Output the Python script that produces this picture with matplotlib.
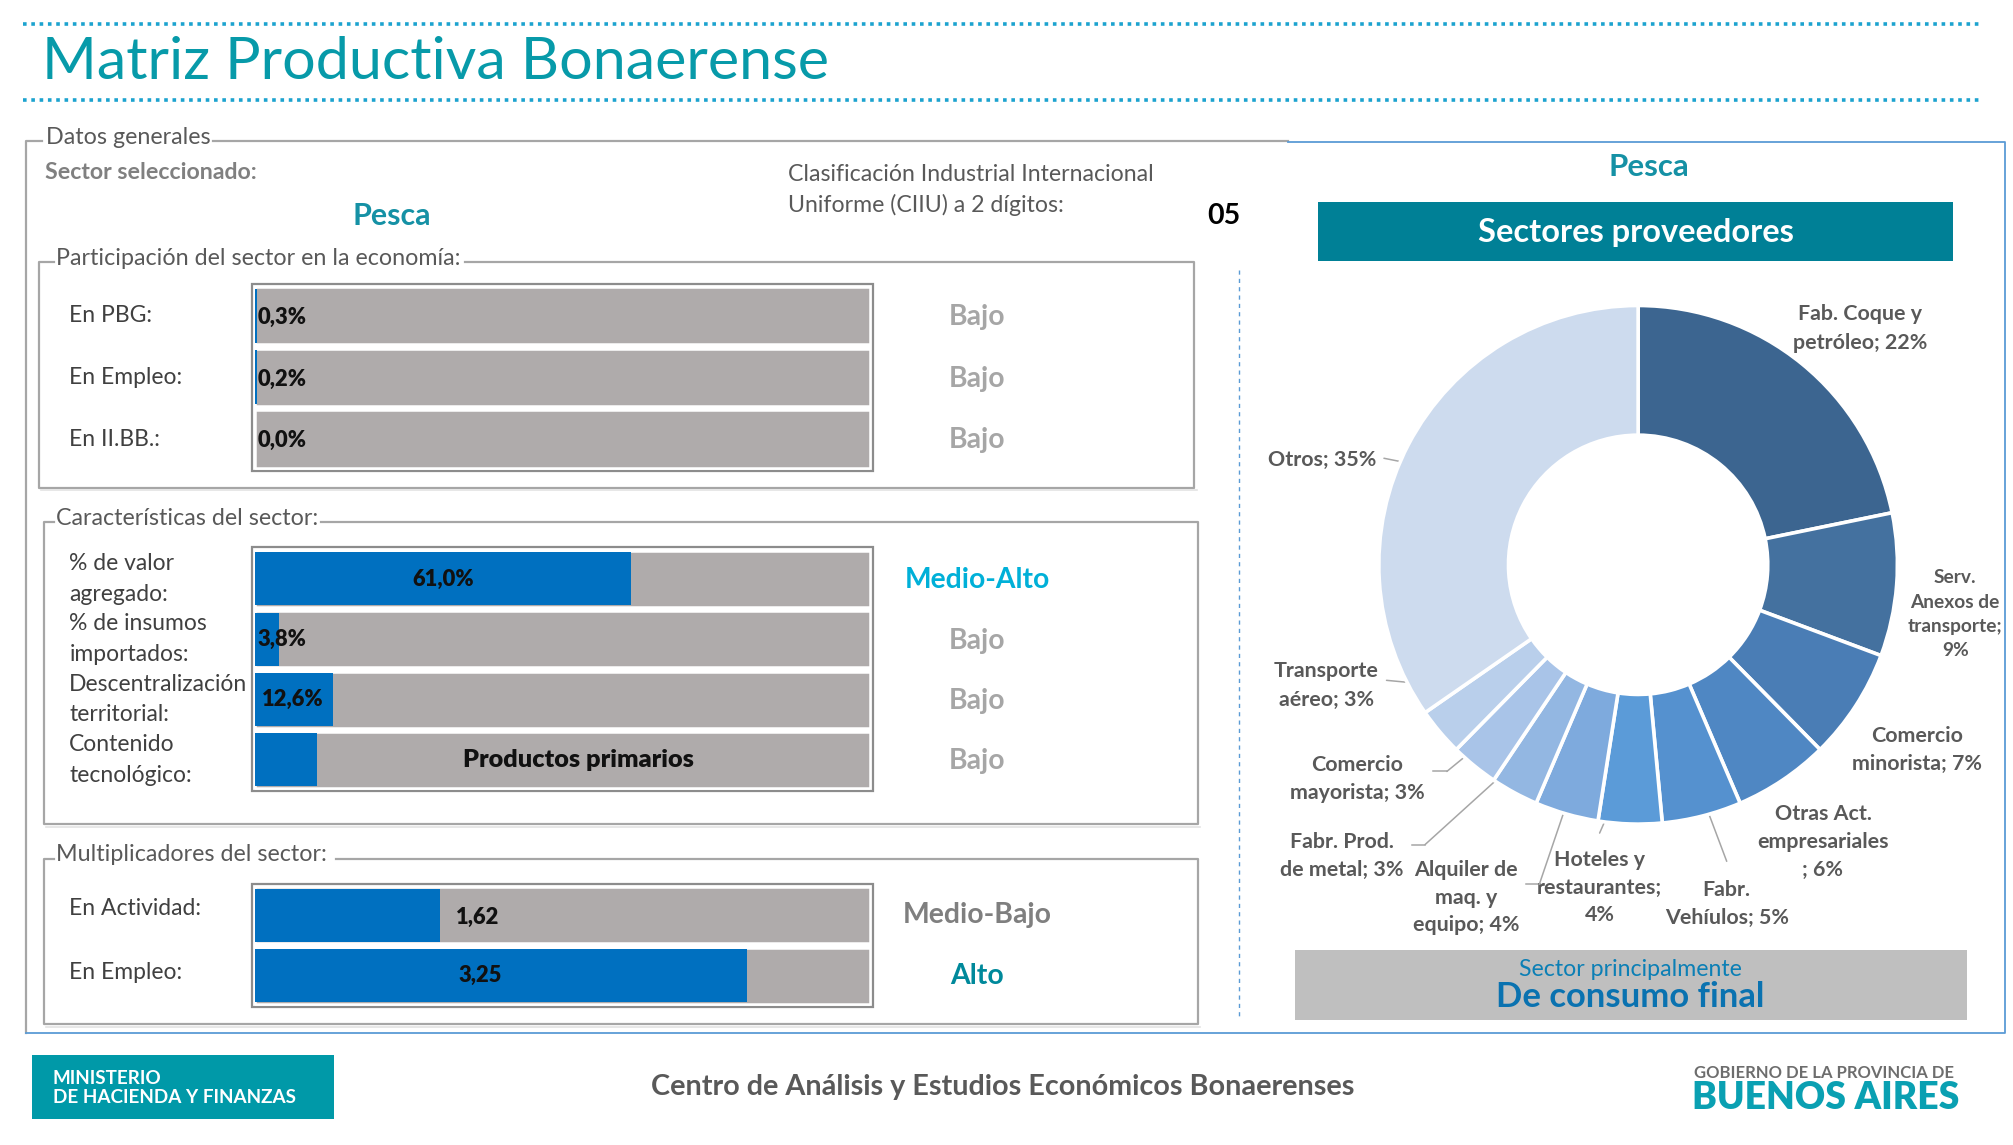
import matplotlib
matplotlib.use("Agg")
import matplotlib.pyplot as plt
import numpy as np
from matplotlib.patches import Rectangle

# ---------------- data ----------------
sector = "Pesca"
ciiu = "05"

part_labels = ["En PBG:", "En Empleo:", "En II.BB.:"]
part_values = [0.3, 0.2, 0.0]
part_text = ["0,3%", "0,2%", "0,0%"]
part_level = ["Bajo", "Bajo", "Bajo"]

car_labels = [("% de valor", "agregado:"), ("% de insumos", "importados:"),
              ("Descentralización", "territorial:"), ("Contenido", "tecnológico:")]
car_values = [61.0, 3.8, 12.6, 10.0]
car_text = ["61,0%", "3,8%", "12,6%", "Productos primarios"]
car_level = ["Medio-Alto", "Bajo", "Bajo", "Bajo"]

mult_labels = ["En Actividad:", "En Empleo:"]
mult_values = [1.62, 3.25]
mult_fill = [30.0, 80.0]          # % of the bar filled
mult_text = ["1,62", "3,25"]
mult_level = ["Medio-Bajo", "Alto"]

prov_labels = [["Fab. Coque y", "petróleo; 22%"],
               ["Serv.", "Anexos de", "transporte;", "9%"],
               ["Comercio", "minorista; 7%"],
               ["Otras Act.", "empresariales", "; 6%"],
               ["Fabr.", "Vehíulos; 5%"],
               ["Hoteles y", "restaurantes;", "4%"],
               ["Alquiler de", "maq. y", "equipo; 4%"],
               ["Fabr. Prod.", "de metal; 3%"],
               ["Comercio", "mayorista; 3%"],
               ["Transporte", "aéreo; 3%"],
               ["Otros; 35%"]]
prov_values = [22, 9, 7, 6, 5, 4, 4, 3, 3, 3, 35]
prov_colors = ["#3c6590", "#44719f", "#4a7db5", "#4f87c3", "#5591cf", "#5b9bd8",
               "#7eaadd", "#93b7e2", "#a9c4e8", "#b9cfeb", "#cddbee"]

level_colors = {"Bajo": "#a6a6a6", "Medio-Alto": "#00b0d8",
                "Medio-Bajo": "#7f7f7f", "Alto": "#00899b"}

# ---------------- layout ----------------
W, H = 1568.0, 892.0
SC = 2013.0 / W
FONT = ["Lato", "DejaVu Sans"]
TEAL = "#079aa9"
GRAY_LINE = "#a6a6a6"
BLUE_LINE = "#5b9bd5"

fig = plt.figure(figsize=(20.13, 11.45), dpi=100)
fig.patch.set_facecolor("white")
ax = fig.add_axes([0, 0, 1, 1])
ax.set_xlim(0, W)
ax.set_ylim(H, 0)
ax.axis("off")
renderer = fig.canvas.get_renderer()


def fax(x0, y0, x1, y1):
    return fig.add_axes([x0 / W, 1 - y1 / H, (x1 - x0) / W, (y1 - y0) / H])


def fit(s, width, weight="normal"):
    t = ax.text(0, 0, s, fontsize=20, fontweight=weight, family=FONT)
    w = t.get_window_extent(renderer=renderer).width
    t.remove()
    return 20.0 * width * SC / w


def put(x, y, s, size, color, weight="normal", ha="left", va="center", axis=None):
    a = ax if axis is None else axis
    return a.text(x, y, s, fontsize=size, color=color, fontweight=weight,
                  ha=ha, va=va, family=FONT)


# ---- header ----
for yy in (19, 78):
    ax.plot([18, 1542], [yy, yy], color="#1ca3cf", lw=2.6,
            linestyle=(0, (1.0, 1.3)), solid_capstyle="butt", dash_capstyle="butt")
put(33, 49, "Matriz Productiva Bonaerense", fit("Matriz Productiva Bonaerense", 615), TEAL)

# ---- outer frames ----
ax.plot([33, 20, 20], [110, 110, 805], color=GRAY_LINE, lw=1.6)
ax.plot([166, 1003], [110, 110], color=GRAY_LINE, lw=1.6)
ax.plot([1003, 1562, 1562, 20], [111, 111, 805, 805], color=BLUE_LINE, lw=1.3)
ax.plot([965, 965], [210, 795], color=BLUE_LINE, lw=1.0, linestyle=(0, (3, 3)))

lab_size = fit("Participación del sector en la economía:", 314)
put(36, 107, "Datos generales", lab_size, "#595959")
put(35, 134, "Sector seleccionado:", fit("Sector seleccionado:", 165, "bold"), "#808080", "bold")
put(305, 168, sector, fit(sector, 61, "bold"), "#1591a5", "bold", ha="center")
ciiu_size = fit("Clasificación Industrial Internacional", 285)
put(614, 136, "Clasificación Industrial Internacional", ciiu_size, "#595959")
put(614, 160, "Uniforme (CIIU) a 2 dígitos:", ciiu_size, "#595959")
put(953, 168, ciiu, fit(ciiu, 26, "bold"), "black", "bold", ha="center")


def groupbox(x0, y0, x1, y1, g0, g1, label):
    ax.plot([g1, x1, x1, x0, x0, g0], [y0, y0, y1, y1, y0, y0], color=GRAY_LINE, lw=1.6)
    ax.plot([x0 + 2, x1 + 2], [y1 + 2, y1 + 2], color="#e3e3e3", lw=1.2)
    put(44, y0 - 3, label, lab_size, "#595959")


groupbox(30, 204, 930, 380, 42, 362, "Participación del sector en la economía:")
groupbox(34, 407, 933, 642, 42, 250, "Características del sector:")
groupbox(34, 669, 933, 798, 42, 262, "Multiplicadores del sector:")

row_size = fit("Descentralización", 139)
num_size = fit("61,0%", 48, "heavy")
lvl_size = fit("Medio-Alto", 113, "bold")


def bar_group(y0, y1, fills, n):
    ax.add_patch(Rectangle((196, y0 - 1), 484, y1 - y0 + 2, fill=False,
                           ec="#8c8c8c", lw=1.6, zorder=3))
    bax = fax(199, y0, 678, y1)
    pos = np.arange(n)
    bax.barh(pos, [100] * n, height=0.93, color="#afabab", edgecolor="white", linewidth=1.8)
    bax.barh(pos, fills, height=0.88, color="#0070c0", edgecolor="none")
    bax.set_xlim(0, 100)
    bax.set_ylim(n - 0.5, -0.5)
    bax.axis("off")
    return bax


# ---- participación ----
bax = bar_group(222, 366, part_values, 3)
for i, (lab, t, lv) in enumerate(zip(part_labels, part_text, part_level)):
    yc = 246 + 48 * i
    put(54, yc, lab, row_size, "#404040")
    put(0.4, i + 0.03, t, num_size, "#111111", "heavy", axis=bax)
    put(761, yc + 1, lv, lvl_size, level_colors[lv], "bold", ha="center")

# ---- características ----
bax = bar_group(427.5, 615.5, car_values, 4)
for i, (lab, v, t, lv) in enumerate(zip(car_labels, car_values, car_text, car_level)):
    yc = 451 + 47 * i
    put(54, yc - 12, lab[0], row_size, "#404040")
    put(54, yc + 12, lab[1], row_size, "#404040")
    if v > 40:
        put(v / 2, i, t, num_size, "#111111", "heavy", ha="center", axis=bax)
    elif len(t) > 8:
        put(52.5, i, t, fit(t, 180, "heavy"), "#111111", "heavy", ha="center", axis=bax)
    else:
        put(0.4 + (v > 10) * 0.6, i, t, num_size, "#111111", "heavy", axis=bax)
    put(761, yc + 1, lv, lvl_size, level_colors[lv], "bold", ha="center")

# ---- multiplicadores ----
bax = bar_group(689.5, 783.5, mult_fill, 2)
for i, (lab, f, t, lv) in enumerate(zip(mult_labels, mult_fill, mult_text, mult_level)):
    yc = 713 + 47 * i
    put(54, yc - 5 + 3 * i, lab, row_size, "#404040")
    if f > 40:
        put(f / 2 - 3.5, i, t, num_size, "#111111", "heavy", ha="center", axis=bax)
    else:
        put(f + 2.6, i + 0.03, t, num_size, "#111111", "heavy", axis=bax)
    put(761, yc, lv, fit("Medio-Bajo", 116, "bold"), level_colors[lv], "bold", ha="center")

# ---- right panel ----
put(1284, 130, sector, fit(sector, 63, "bold"), "#1591a5", "bold", ha="center")
ax.add_patch(Rectangle((1027, 157), 494, 46, color="#008096", lw=0))
put(1274, 181, "Sectores proveedores", fit("Sectores proveedores", 246, "bold"), "white", "bold", ha="center")

CX, CY, R = 1276, 440, 202
pax = fax(CX - R, CY - R, CX + R, CY + R)
wedges, _ = pax.pie(prov_values, startangle=90, counterclock=False, colors=prov_colors,
                    radius=1.0, wedgeprops=dict(width=0.5, edgecolor="white", linewidth=2.6))
pax.set_xlim(-1, 1)
pax.set_ylim(-1, 1)
pax.axis("off")

don_size = fit("mayorista; 3%", 105, "bold")
serv_size = fit("transporte;", 74, "bold")
DCOL = "#595959"
label_place = [(1449, 245, 22), (1523, 450, 19), (1493, 573, 22), (1420, 634, 22),
               (1345, 693, 22), (1246, 670, 21.5), (1142, 678, 21.5), (1045, 656, 22),
               (1057, 596, 22), (1033, 523, 22), (1072, 358, 22)]
leader_end = {4: (1345, 671), 5: (1246, 649), 6: (1199, 689), 7: (1110, 658),
              8: (1127, 601), 9: (1080, 530), 10: (1078, 357)}
leader_tick = {6: 1189, 7: 1100, 8: 1116}

for k, (lines, (lx, ly, step)) in enumerate(zip(prov_labels, label_place)):
    size = serv_size if k == 1 else don_size
    ha = "right" if k == 10 else "center"
    for j, line in enumerate(lines):
        put(lx, ly + step * j, line, size, DCOL, "bold", ha=ha)
    if k in leader_end:
        w = wedges[k]
        mid = np.deg2rad((w.theta1 + w.theta2) / 2.0)
        xy = (0.75 * np.cos(mid), 0.75 * np.sin(mid))
        ex, ey = leader_end[k]
        ax.annotate("", xy=xy, xycoords=pax.transData, xytext=(ex, ey), textcoords="data",
                    arrowprops=dict(arrowstyle="-", color="#a6a6a6", lw=1.1,
                                    shrinkA=0, shrinkB=0))
        if k in leader_tick:
            ax.plot([leader_tick[k], ex], [ey, ey], color="#a6a6a6", lw=1.1)

ax.add_patch(Rectangle((1009, 740), 523, 55, color="#bfbfbf", lw=0))
put(1270, 755, "Sector principalmente", fit("Sector principalmente", 174), "#0b7fb5", ha="center")
put(1270, 777, "De consumo final", fit("De consumo final", 209, "bold"), "#0a72b0", "bold", ha="center")

# ---- footer ----
ax.add_patch(Rectangle((25, 822), 235, 50, color="#0099a8", lw=0))
min_size = fit("DE HACIENDA Y FINANZAS", 190, "bold")
put(41, 840, "MINISTERIO", min_size, "white", "bold")
put(41, 855, "DE HACIENDA Y FINANZAS", min_size, "white", "bold")
foot = "Centro de Análisis y Estudios Económicos Bonaerenses"
put(781, 847, foot, fit(foot, 548, "bold"), "#595959", "bold", ha="center")
put(1421, 836, "GOBIERNO DE LA PROVINCIA DE", fit("GOBIERNO DE LA PROVINCIA DE", 202, "bold"),
    "#6d6d6d", "bold", ha="center")
put(1422, 855, "BUENOS AIRES", fit("BUENOS AIRES", 208, "heavy"), "#0aa0b2", "heavy", ha="center")

fig.savefig("out.png", dpi=100, facecolor="white")
